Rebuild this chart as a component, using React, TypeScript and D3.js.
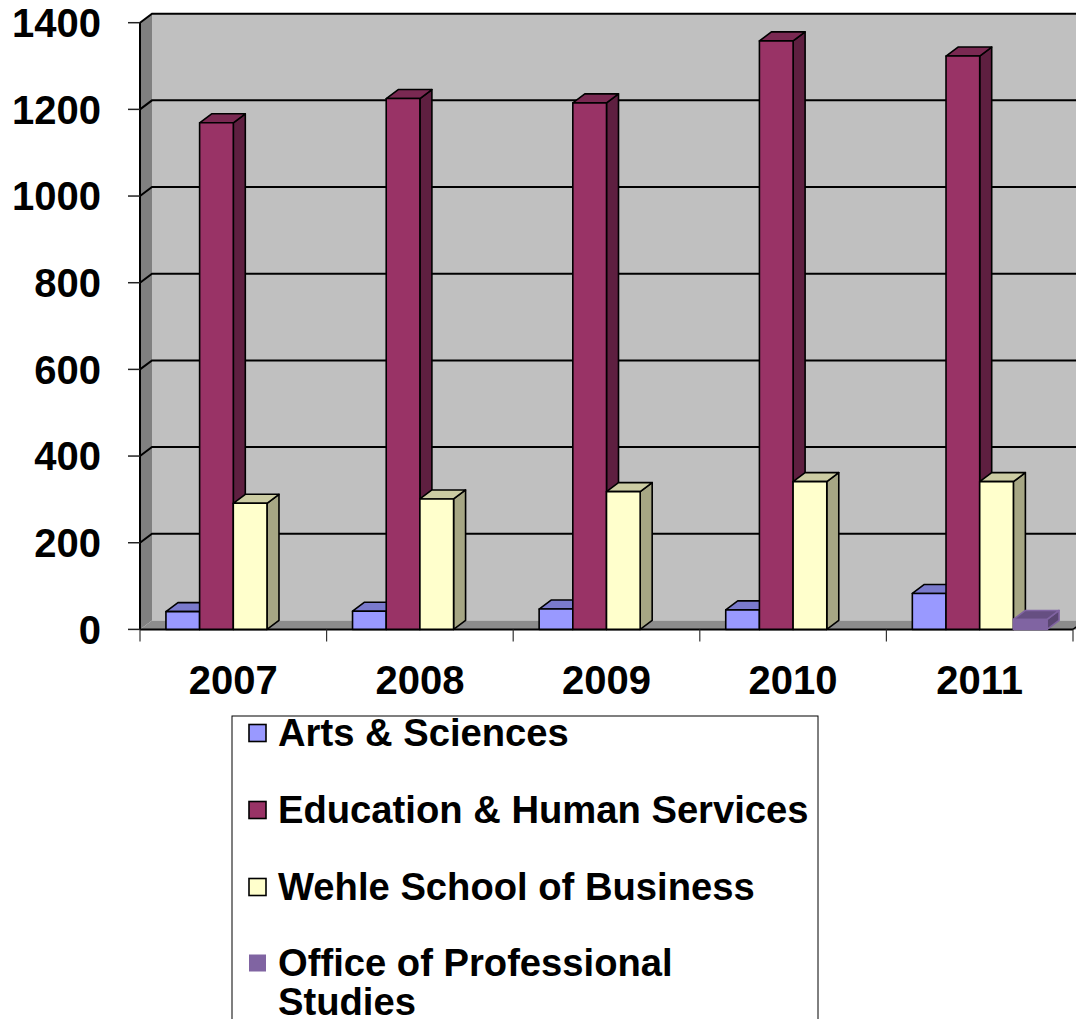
import React from "react";
import * as d3 from "d3";

const years = ["2007", "2008", "2009", "2010", "2011"];
const seriesNames = [
  "Arts & Sciences",
  "Education & Human Services",
  "Wehle School of Business",
  "Office of Professional Studies",
];
const artsSciences = [41, 42, 47, 45, 83];
const educationHuman = [1169, 1225, 1215, 1358, 1323];
const wehleBusiness = [291, 301, 318, 341, 341];
const professionalStudies = [null, null, null, null, 23];
const yTicks = [0, 200, 400, 600, 800, 1000, 1200, 1400];

// front, top, side colours per series
const palette = [
  { front: "#9999ff", top: "#7a7acc", side: "#6b6bb3", stroke: "#000" },
  { front: "#993366", top: "#7a2952", side: "#5e1f40", stroke: "#000" },
  { front: "#ffffcc", top: "#cccca3", side: "#a6a684", stroke: "#000" },
  { front: "#8064a2", top: "#664f82", side: "#5a4672", stroke: "#8064a2" },
];

const FONT = "'Liberation Sans', Arial, sans-serif";

export default function App() {
  const width = 1076;
  const height = 1019;
  const left = 140;
  const right = 1073;
  const y0 = 629.4;
  const yTop = 22.7;
  const dx = 12;
  const dy = -9;

  const values = [artsSciences, educationHuman, wehleBusiness, professionalStudies];

  const y = d3.scaleLinear().domain([0, 1400]).range([y0, yTop]);
  const x = d3.scaleBand<string>().domain(years).range([left, right]).padding(0);
  const xs = d3
    .scaleBand<string>()
    .domain(seriesNames)
    .range([0, x.bandwidth()])
    .paddingInner(0)
    .paddingOuter(0.77);

  const bw = xs.bandwidth();

  const bars: React.ReactNode[] = [];
  years.forEach((yr, ci) => {
    seriesNames.forEach((s, si) => {
      const v = values[si][ci];
      if (v == null) return;
      const c = palette[si];
      const x0 = (x(yr) ?? 0) + (xs(s) ?? 0);
      const x1 = x0 + bw;
      const yv = y(v);
      const top = `M${x0},${yv}L${x0 + dx},${yv + dy}L${x1 + dx},${yv + dy}L${x1},${yv}Z`;
      const side = `M${x1},${yv}L${x1 + dx},${yv + dy}L${x1 + dx},${y0 + dy}L${x1},${y0}Z`;
      bars.push(
        <g key={`${yr}-${si}`} stroke={c.stroke} strokeWidth={1.6} strokeLinejoin="round">
          <path d={side} fill={c.side} />
          <path d={top} fill={c.top} />
          <rect x={x0} y={yv} width={bw} height={y0 - yv} fill={c.front} />
        </g>,
      );
    });
  });

  const legendY = [733, 810, 887, 963];

  return (
    <svg
      width={width}
      height={height}
      style={{ position: "absolute", left: 0, top: 0, background: "#fff" }}
      fontFamily={FONT}
    >
      {/* back wall */}
      <rect x={left + dx} y={yTop + dy} width={right - left + 20} height={y0 - yTop} fill="#c0c0c0" />
      {/* left wall */}
      <path
        d={`M${left},${yTop}L${left + dx},${yTop + dy}L${left + dx},${y0 + dy}L${left},${y0}Z`}
        fill="#808080"
      />
      {/* floor */}
      <path
        d={`M${left},${y0}L${left + dx},${y0 + dy}L${right + dx + 20},${y0 + dy}L${right + 20},${y0}Z`}
        fill="#8c8c8c"
      />
      {/* gridlines */}
      {yTicks.slice(1).map((t) => (
        <path
          key={t}
          d={`M${left},${y(t)}L${left + dx},${y(t) + dy}L${right + dx + 20},${y(t) + dy}`}
          fill="none"
          stroke="#000"
          strokeWidth={2}
        />
      ))}
      {/* axis lines */}
      <line x1={left} x2={left} y1={yTop} y2={y0} stroke="#000" strokeWidth={2} />
      <line x1={left} x2={right} y1={y0} y2={y0} stroke="#000" strokeWidth={2} />
      <line x1={right} y1={y0} x2={right + dx} y2={y0 + dy} stroke="#000" strokeWidth={1.5} />
      {/* y ticks */}
      {yTicks.map((t) => (
        <g key={t}>
          <line x1={128} x2={left} y1={y(t)} y2={y(t)} stroke="#222" strokeWidth={1.5} />
          <text
            x={101}
            y={y(t)}
            dy="0.36em"
            textAnchor="end"
            fontSize={40}
            fontWeight="bold"
            fill="#000"
          >
            {t}
          </text>
        </g>
      ))}
      {/* x ticks */}
      {[...years.map((yr) => x(yr) ?? 0), right].map((px, i) => (
        <line key={i} x1={px} x2={px} y1={y0} y2={y0 + 12} stroke="#333" strokeWidth={1.2} />
      ))}
      {years.map((yr) => (
        <text
          key={yr}
          x={(x(yr) ?? 0) + x.bandwidth() / 2}
          y={694}
          textAnchor="middle"
          fontSize={40}
          fontWeight="bold"
          fill="#000"
        >
          {yr}
        </text>
      ))}
      {bars}
      {/* legend */}
      <rect x={232} y={716} width={586} height={340} fill="#fff" stroke="#000" strokeWidth={1} />
      {seriesNames.map((s, i) => {
        const c = palette[i];
        const cy = legendY[i];
        const lines = i === 3 ? ["Office of Professional", "Studies"] : [s];
        return (
          <g key={s}>
            <rect
              x={249}
              y={cy - 8.5}
              width={17}
              height={17}
              fill={c.front}
              stroke={i === 3 ? "none" : "#000"}
              strokeWidth={1.6}
            />
            {lines.map((ln, li) => (
              <text
                key={li}
                x={278}
                y={cy + 13 + li * 39}
                fontSize={38.2}
                fontWeight="bold"
                fill="#000"
              >
                {ln}
              </text>
            ))}
          </g>
        );
      })}
    </svg>
  );
}
